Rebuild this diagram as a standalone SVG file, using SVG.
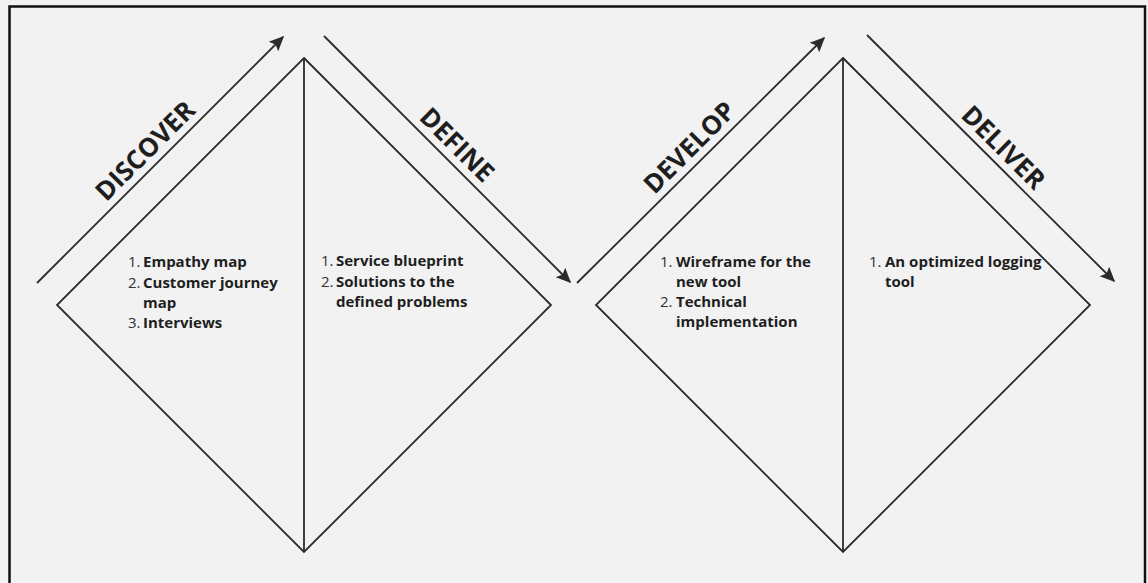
<svg xmlns="http://www.w3.org/2000/svg" width="1148" height="583" viewBox="0 0 1148 583">
<style>
.ln{stroke:#2b2b2b;stroke-width:1.8;fill:none}
.ar{stroke:#2b2b2b;stroke-width:1.8;fill:none;marker-end:url(#ah)}
.phase{font-family:"Open Sans","Noto Sans",sans-serif;font-weight:700;font-size:26px;fill:#1e1e1e;text-anchor:middle}
.num{font-family:"Open Sans","Noto Sans",sans-serif;font-size:15px;fill:#333}
.item{font-family:"Open Sans","Noto Sans",sans-serif;font-weight:700;font-size:15px;fill:#1e1e1e}
</style>
<defs>
<marker id="ah" viewBox="0 0 10 10" refX="9" refY="5" markerWidth="15" markerHeight="15" markerUnits="userSpaceOnUse" orient="auto">
<path d="M0,0.5 L10,5 L0,9.5 L2,5 Z" fill="#2b2b2b"/>
</marker>
</defs>
<rect x="0" y="0" width="1148" height="583" fill="#f2f2f2"/>
<rect x="9.5" y="6.5" width="1135.5" height="590" fill="none" stroke="#111" stroke-width="2.5"/>

<g id="diamond-discover-define">
<polygon class="ln" points="304,58 551,305 304,552 57,305"/>
<line class="ln" x1="304" y1="58" x2="304" y2="552"/>
</g>
<g id="diamond-develop-deliver">
<polygon class="ln" points="843,58 1090,305 843,552 596,305"/>
<line class="ln" x1="843" y1="58" x2="843" y2="552"/>
</g>

<g id="connectors">
<line class="ar" x1="37" y1="283" x2="283" y2="37"/>
<line class="ar" x1="324" y1="36" x2="570" y2="282"/>
<line class="ar" x1="577" y1="283" x2="824" y2="38"/>
<line class="ar" x1="867" y1="35" x2="1114" y2="281"/>
</g>

<g id="label-discover">
<text class="phase" transform="translate(160,160) rotate(-45)" x="-4" y="-8">DISCOVER</text>
</g>
<g id="label-define">
<text class="phase" transform="translate(447,159) rotate(45)" x="-3" y="-8">DEFINE</text>
</g>
<g id="label-develop">
<text class="phase" transform="translate(700,161) rotate(-45)" x="2" y="-8">DEVELOP</text>
</g>
<g id="label-deliver">
<text class="phase" transform="translate(990,158) rotate(45)" x="2" y="-8">DELIVER</text>
</g>

<g id="list-discover">
<text class="num" x="128" y="267">1.</text>
<text class="item" x="143" y="267">Empathy map</text>
<text class="num" x="128" y="288">2.</text>
<text class="item" x="143" y="288">Customer journey</text>
<text class="item" x="143" y="308">map</text>
<text class="num" x="128" y="328">3.</text>
<text class="item" x="143" y="328">Interviews</text>
</g>
<g id="list-define">
<text class="num" x="321" y="266">1.</text>
<text class="item" x="336" y="266">Service blueprint</text>
<text class="num" x="321" y="287">2.</text>
<text class="item" x="336" y="287">Solutions to the</text>
<text class="item" x="336" y="307">defined problems</text>
</g>
<g id="list-develop">
<text class="num" x="660" y="267">1.</text>
<text class="item" x="676" y="267">Wireframe for the</text>
<text class="item" x="676" y="287">new tool</text>
<text class="num" x="660" y="307">2.</text>
<text class="item" x="676" y="307">Technical</text>
<text class="item" x="676" y="327">implementation</text>
</g>
<g id="list-deliver">
<text class="num" x="869" y="267">1.</text>
<text class="item" x="885" y="267">An optimized logging</text>
<text class="item" x="885" y="287">tool</text>
</g>
</svg>
